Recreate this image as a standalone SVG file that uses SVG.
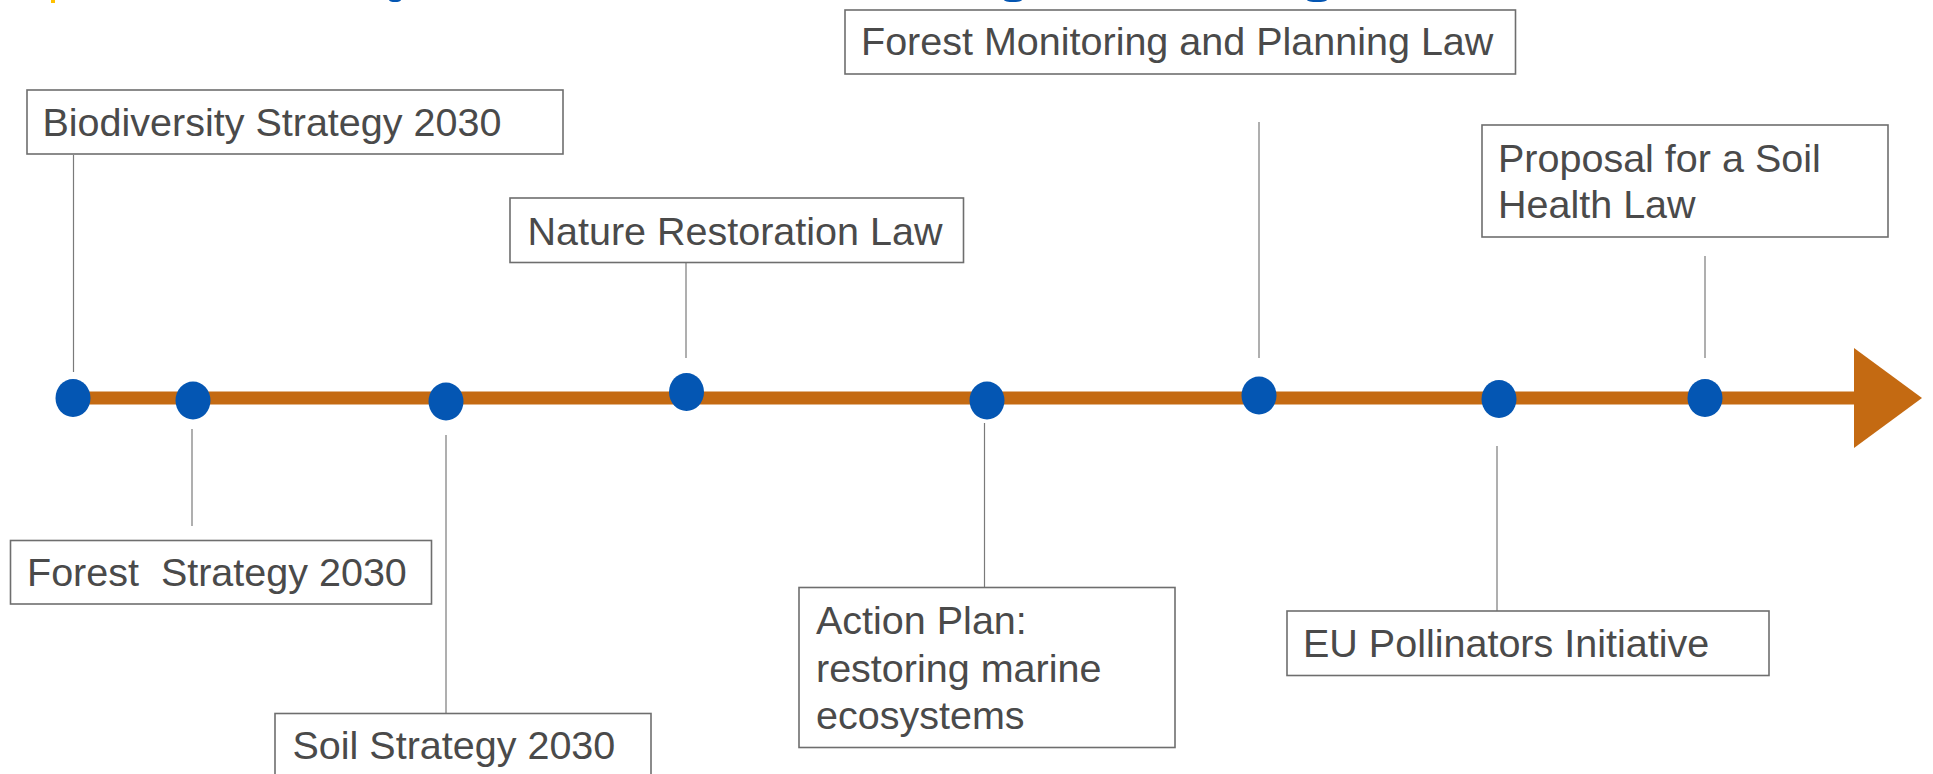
<svg xmlns="http://www.w3.org/2000/svg" width="1933" height="774" viewBox="0 0 1933 774">
  <style>
    .box rect { fill: #ffffff; stroke: #6e6e6e; stroke-width: 1.6; }
    .box text { font-family: "Liberation Sans", Arial, sans-serif; font-size: 39.5px; fill: #4a4a4a; }
    .conn line { stroke: #7a7a7a; stroke-width: 1.2; }
    .dot { fill: #0456B3; }
  </style>
  <rect x="0" y="0" width="1933" height="774" fill="#ffffff"/>

  <!-- cropped title fragments at the top edge -->
  <g id="title-fragments">
    <rect x="51" y="0" width="4" height="3" fill="#FFC000"/>
    <ellipse cx="395" cy="0" rx="6" ry="2" fill="#0456B3"/>
    <ellipse cx="1013" cy="0" rx="9" ry="2" fill="#0456B3"/>
    <ellipse cx="1317" cy="0" rx="10" ry="2" fill="#0456B3"/>
  </g>

  <!-- timeline axis -->
  <g id="timeline">
    <rect x="73" y="391.5" width="1790" height="13" fill="#C46A12"/>
    <polygon points="1854,348 1922,398 1854,448" fill="#C46A12"/>
  </g>

  <!-- connectors -->
  <g id="connectors" class="conn">
    <line x1="73.5" y1="155" x2="73.5" y2="372"/>
    <line x1="192" y1="429" x2="192" y2="526"/>
    <line x1="446" y1="435" x2="446" y2="713"/>
    <line x1="686" y1="263" x2="686" y2="358"/>
    <line x1="984.5" y1="423" x2="984.5" y2="587"/>
    <line x1="1259" y1="122" x2="1259" y2="358"/>
    <line x1="1497" y1="446" x2="1497" y2="611"/>
    <line x1="1705" y1="256" x2="1705" y2="358"/>
  </g>

  <!-- milestone dots -->
  <g id="dots">
    <ellipse class="dot" cx="73" cy="398" rx="17.5" ry="19"/>
    <ellipse class="dot" cx="193" cy="400.5" rx="17.5" ry="19"/>
    <ellipse class="dot" cx="446" cy="401.5" rx="17.5" ry="19"/>
    <ellipse class="dot" cx="686.5" cy="392" rx="17.5" ry="19"/>
    <ellipse class="dot" cx="987" cy="400.5" rx="17.5" ry="19"/>
    <ellipse class="dot" cx="1259" cy="395.5" rx="17.5" ry="19"/>
    <ellipse class="dot" cx="1499" cy="399" rx="17.5" ry="19"/>
    <ellipse class="dot" cx="1705" cy="398" rx="17.5" ry="19"/>
  </g>

  <g id="biodiversity-strategy" class="box">
    <rect x="27" y="90" width="536" height="64"/>
    <text x="42.5" y="136">Biodiversity Strategy 2030</text>
  </g>

  <g id="forest-strategy" class="box">
    <rect x="10.5" y="540.5" width="421" height="63.5"/>
    <text x="27" y="586" xml:space="preserve">Forest  Strategy 2030</text>
  </g>

  <g id="soil-strategy" class="box">
    <rect x="275" y="713.5" width="376" height="80"/>
    <text x="292.5" y="759">Soil Strategy 2030</text>
  </g>

  <g id="nature-restoration-law" class="box">
    <rect x="510" y="198" width="453.5" height="64.5"/>
    <text x="527.5" y="245">Nature Restoration Law</text>
  </g>

  <g id="action-plan" class="box">
    <rect x="799" y="587.5" width="376" height="160"/>
    <text x="816" y="634">Action Plan:</text>
    <text x="816" y="682">restoring marine</text>
    <text x="816" y="728.5">ecosystems</text>
  </g>

  <g id="forest-monitoring-law" class="box">
    <rect x="845" y="10" width="670.5" height="64"/>
    <text x="861" y="55">Forest Monitoring and Planning Law</text>
  </g>

  <g id="pollinators-initiative" class="box">
    <rect x="1287" y="611" width="482" height="64.5"/>
    <text x="1303" y="657">EU Pollinators Initiative</text>
  </g>

  <g id="soil-health-law" class="box">
    <rect x="1482" y="125" width="406" height="112"/>
    <text x="1498" y="172">Proposal for a Soil</text>
    <text x="1498" y="218">Health Law</text>
  </g>
</svg>
